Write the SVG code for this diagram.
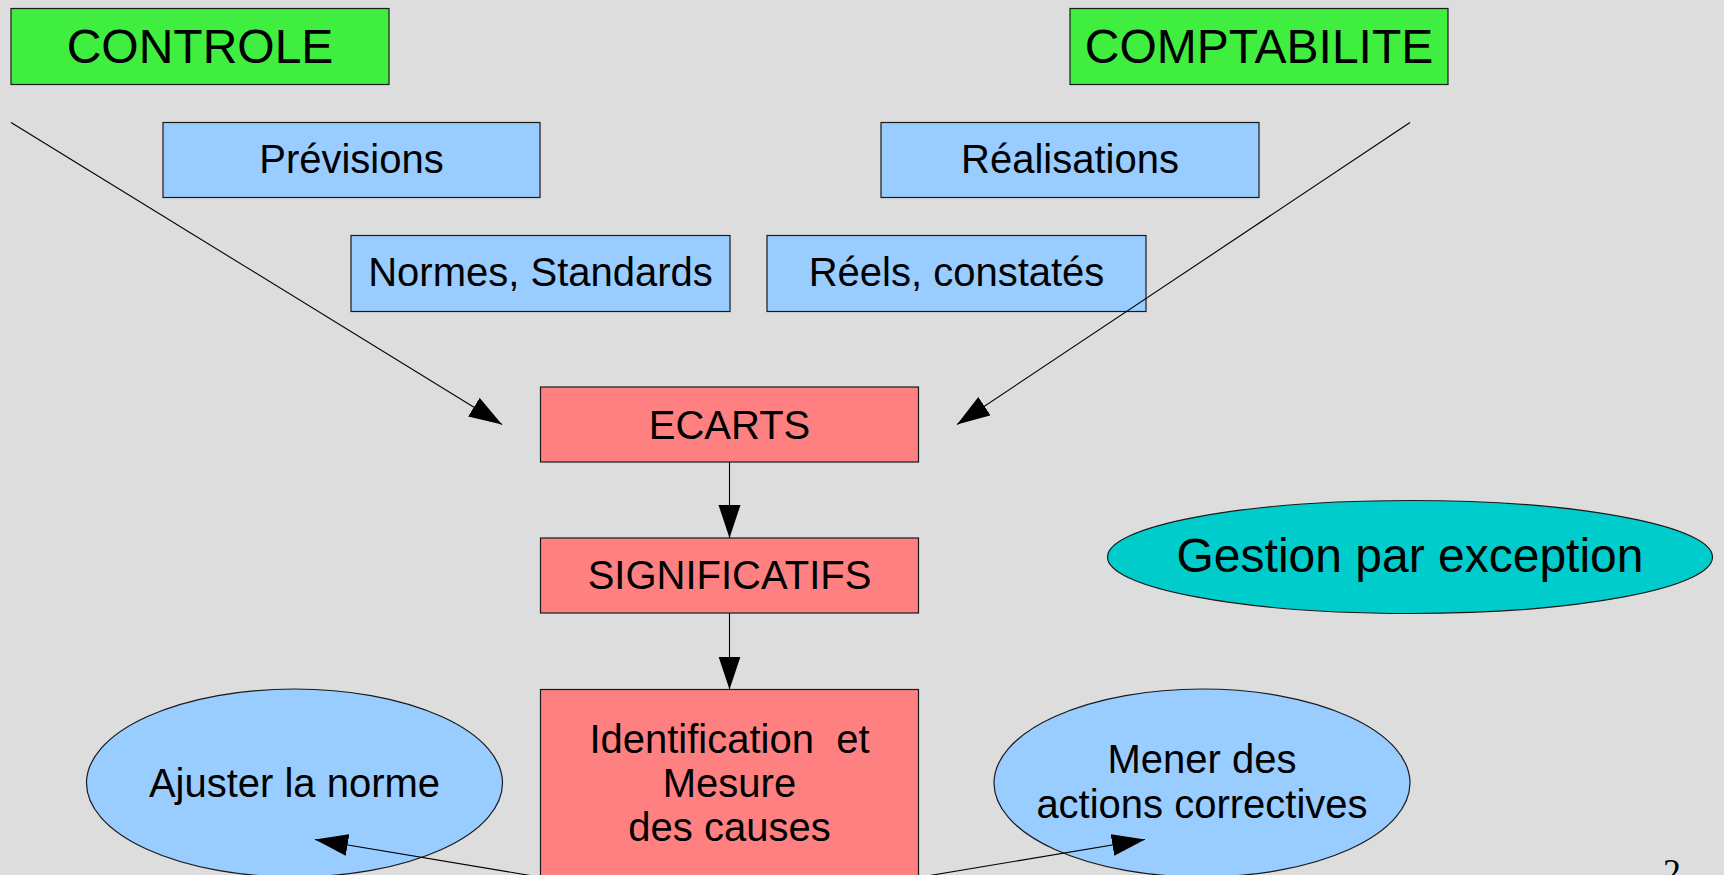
<svg xmlns="http://www.w3.org/2000/svg" width="1724" height="875" viewBox="0 0 1724 875">
<style>
  text { font-family: "Liberation Sans", Arial, sans-serif; fill: #000; text-anchor: middle; }
  .big { font-size: 48px; }
  .med { font-size: 40px; }
  .green { fill: #40ee40; stroke: #1a1a1a; stroke-width: 1.2; }
  .blue { fill: #99ccff; stroke: #1a1a1a; stroke-width: 1.2; }
  .red { fill: #ff8080; stroke: #1a1a1a; stroke-width: 1.2; }
  .teal { fill: #00cccc; stroke: #1a1a1a; stroke-width: 1.2; }
  .conn { stroke: #000; stroke-width: 1.1; fill: none; marker-end: url(#arrow); }
  .page { font-family: "Liberation Serif", "Times New Roman", serif; font-size: 36px; }
</style>
<defs>
  <marker id="arrow" markerUnits="userSpaceOnUse" markerWidth="34" markerHeight="23" refX="33" refY="11" orient="auto">
    <path d="M0,0 L33,11 L0,22 z" fill="#000"/>
  </marker>
</defs>
<rect width="1724" height="875" fill="#dddddd"/>

<g id="controle">
  <rect class="green" x="11" y="8.5" width="378" height="76"/>
  <text class="big" x="200" y="63">CONTROLE</text>
</g>
<g id="comptabilite">
  <rect class="green" x="1070" y="8.5" width="378" height="76"/>
  <text class="big" x="1259" y="63">COMPTABILITE</text>
</g>
<g id="previsions">
  <rect class="blue" x="163" y="122.5" width="377" height="75"/>
  <text class="med" x="351.5" y="173">Prévisions</text>
</g>
<g id="realisations">
  <rect class="blue" x="881" y="122.5" width="378" height="75"/>
  <text class="med" x="1070" y="173">Réalisations</text>
</g>
<g id="normes">
  <rect class="blue" x="351" y="235.5" width="379" height="76"/>
  <text class="med" x="540.5" y="286">Normes, Standards</text>
</g>
<g id="reels">
  <rect class="blue" x="767" y="235.5" width="379" height="76"/>
  <text class="med" x="956.5" y="286">Réels, constatés</text>
</g>
<g id="ecarts">
  <rect class="red" x="540.5" y="387" width="378" height="75"/>
  <text class="med" x="729.5" y="439">ECARTS</text>
</g>
<g id="significatifs">
  <rect class="red" x="540.5" y="538" width="378" height="75"/>
  <text class="med" x="729.5" y="589">SIGNIFICATIFS</text>
</g>
<g id="identification">
  <rect class="red" x="540.5" y="689.5" width="378" height="200"/>
  <text class="med" x="729.5" y="752.5" xml:space="preserve">Identification  et</text>
  <text class="med" x="729.5" y="797">Mesure</text>
  <text class="med" x="729.5" y="841">des causes</text>
</g>
<g id="gestion">
  <ellipse class="teal" cx="1410" cy="557" rx="302.5" ry="56.5"/>
  <text class="big" x="1410" y="572">Gestion par exception</text>
</g>
<g id="ajuster">
  <ellipse class="blue" cx="294.5" cy="783" rx="208" ry="94"/>
  <text class="med" x="294.5" y="797">Ajuster la norme</text>
</g>
<g id="mener">
  <ellipse class="blue" cx="1202" cy="783" rx="208" ry="94"/>
  <text class="med" x="1202" y="773">Mener des</text>
  <text class="med" x="1202" y="818">actions correctives</text>
</g>

<g id="connectors">
  <line class="conn" x1="11" y1="122.5" x2="502" y2="424.5"/>
  <line class="conn" x1="1410" y1="122.5" x2="957" y2="424.5"/>
  <line class="conn" x1="729.5" y1="462" x2="729.5" y2="538"/>
  <line class="conn" x1="729.5" y1="613" x2="729.5" y2="689.5"/>
  <line class="conn" x1="545" y1="878" x2="315" y2="839.5"/>
  <line class="conn" x1="915" y1="878" x2="1145" y2="839.5"/>
</g>

<text class="page" x="1672" y="884">2</text>
</svg>
